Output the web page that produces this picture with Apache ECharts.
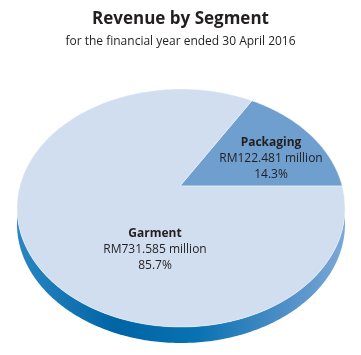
<!DOCTYPE html>
<html>
<head>
<meta charset="utf-8">
<script src="https://cdn.jsdelivr.net/npm/echarts@6/dist/echarts.min.js"></script>
<style>html,body{margin:0;padding:0;background:#fff}#c{width:361px;height:355px}</style>
</head>
<body>
<div id="c"></div>
<script>
// ---- data ----
const categories = ['Packaging', 'Garment'];
const values = [122.481, 731.585];
const titleText = 'Revenue by Segment';
const subtitleText = 'for the financial year ended 30 April 2016';

// ---- style / layout ----
const faceColors = ['#6f9fce', '#d0deef'];
const textColor = '#231f20';
const fontFam = '"Open Sans", "Noto Sans", sans-serif';
const geo = { cx: 181, cy: 208, rx: 164, ry: 119, ax: 180, ay: 186, depth: 16, squash: 0.94 };
const labelOffsets = [[91, -27], [-25, 64]]; // label block centre relative to apex

const total = values.reduce((a, b) => a + b, 0);
const starts = [];
let acc = 0;
values.forEach(v => { starts.push(acc / total * Math.PI * 2); acc += v; });

function rayPoint(theta) {
  const dx = Math.cos(theta), dy = -geo.squash * Math.sin(theta);
  const px = geo.ax - geo.cx, py = geo.ay - geo.cy;
  const rx2 = geo.rx * geo.rx, ry2 = geo.ry * geo.ry;
  const a = dx * dx / rx2 + dy * dy / ry2;
  const b = 2 * (px * dx / rx2 + py * dy / ry2);
  const c = px * px / rx2 + py * py / ry2 - 1;
  const t = (-b + Math.sqrt(b * b - 4 * a * c)) / (2 * a);
  return [geo.ax + t * dx, geo.ay + t * dy];
}
function sliceOf(x, y) {
  const dx = x - geo.ax, dy = y - geo.ay;
  let th = Math.atan2(-dy / geo.squash, dx);
  if (th < 0) th += Math.PI * 2;
  for (let i = values.length - 1; i >= 0; i--) if (th >= starts[i]) return i;
  return 0;
}

const sideGradient = new echarts.graphic.LinearGradient(0, 0, 1, 0, [
  { offset: 0, color: '#2a86c2' },
  { offset: 0.3, color: '#0064a5' },
  { offset: 0.55, color: '#0a72b2' },
  { offset: 0.8, color: '#4a8dc6' },
  { offset: 1, color: '#7ca8d7' }
]);

function renderItem(params, api) {
  const i = params.dataIndex;
  const v = api.value(1);
  const s = starts[i];
  const e = s + v / total * Math.PI * 2;
  const children = [];
  // side (front wall)
  const N = 200;
  let run = [];
  const runs = [];
  for (let k = 0; k <= N; k++) {
    const t = Math.PI * k / N;
    const x = geo.cx + geo.rx * Math.cos(t), y = geo.cy + geo.ry * Math.sin(t);
    if (sliceOf(x, y) === i) run.push([x, y]);
    else if (run.length) { runs.push(run); run = []; }
  }
  if (run.length) runs.push(run);
  runs.forEach(r => {
    const pts = r.concat(r.slice().reverse().map(p => [p[0], p[1] + geo.depth]));
    children.push({ type: 'polygon', z2: 0, shape: { points: pts },
      style: { fill: i === 1 ? sideGradient : '#3f7fb8', stroke: null } });
  });
  // top face
  const pts = [[geo.ax, geo.ay]];
  const steps = Math.max(8, Math.ceil((e - s) / (Math.PI * 2) * 360));
  for (let k = 0; k <= steps; k++) pts.push(rayPoint(s + (e - s) * k / steps));
  children.push({ type: 'polygon', z2: 10, shape: { points: pts },
    style: { fill: faceColors[i], stroke: 'rgba(255,255,255,0.7)', lineWidth: 0.6 } });
  // label
  const pct = (v / total * 100).toFixed(1) + '%';
  children.push({ type: 'text', z2: 20,
    x: geo.ax + labelOffsets[i][0], y: geo.ay + labelOffsets[i][1],
    style: {
      text: '{b|' + categories[i] + '}\nRM' + v.toFixed(3) + ' million\n' + pct,
      align: 'center', verticalAlign: 'middle',
      fill: textColor, fontFamily: fontFam, fontSize: 12, lineHeight: 16,
      rich: { b: { fontWeight: 'bold', fontSize: 12, lineHeight: 16, fontFamily: fontFam, fill: textColor } }
    } });
  return { type: 'group', children };
}

const chart = echarts.init(document.getElementById('c'), null, { renderer: 'canvas' });
chart.setOption({
  animation: false,
  title: {
    text: titleText, subtext: subtitleText, left: 'center', top: 6, itemGap: 8,
    textStyle: { fontFamily: fontFam, fontSize: 17, fontWeight: 'bold', color: textColor },
    subtextStyle: { fontFamily: fontFam, fontSize: 12, color: textColor }
  },
  series: [{
    type: 'custom', coordinateSystem: 'none', renderItem,
    data: categories.map((c, i) => ({ name: c, value: [i, values[i]] }))
  }]
});
</script>
</body>
</html>
